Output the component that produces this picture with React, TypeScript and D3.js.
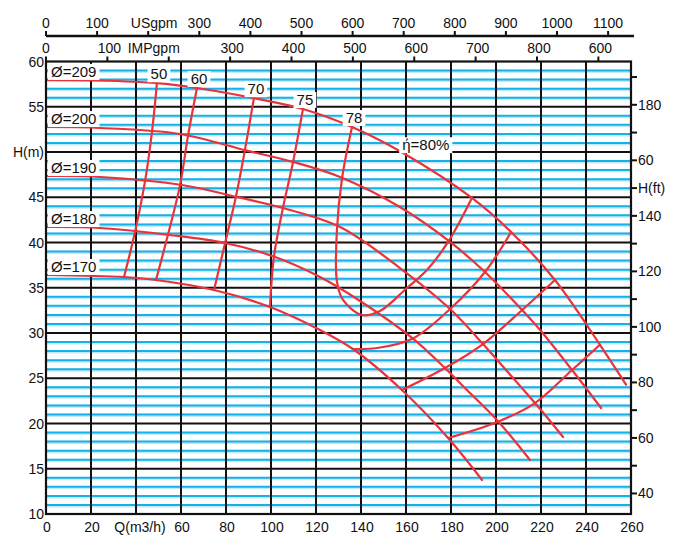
import React, { useRef, useLayoutEffect, useState } from 'react';
import * as d3 from 'd3';

// ---------- axis data ----------
const qTicks = [0, 20, 40, 60, 80, 100, 120, 140, 160, 180, 200, 220, 240, 260];
const qLabels = ['0', '20', 'Q(m3/h)', '60', '80', '100', '120', '140', '160', '180', '200', '220', '240', '260'];
const hTicks = [10, 15, 20, 25, 30, 35, 40, 45, 50, 55, 60];
const hLabels = ['10', '15', '20', '25', '30', '35', '40', '45', 'H(m)', '55', '60'];
const usTicks = [0, 100, 200, 300, 400, 500, 600, 700, 800, 900, 1000, 1100];
const usLabels = ['0', '100', 'USgpm', '300', '400', '500', '600', '700', '800', '900', '1000', '1100'];
const impTicks = [0, 100, 200, 300, 400, 500, 600, 700, 800, 900];
const impLabels = ['0', '100', 'IMPgpm', '300', '400', '500', '600', '700', '800', '600'];
const ftMajor = [180, 160, 150, 140, 120, 100, 80, 60, 40];
const ftMajorLabels = ['180', '60', 'H(ft)', '140', '120', '100', '80', '60', '40'];
const ftMinor = [190, 170, 130, 110, 90, 70, 50];
const US_PER_M3H = 4.403;
const IMP_PER_M3H = 3.666;

// ---------- H-Q curves (Q m3/h, H m) ----------
const d209: [number, number][] = [[0, 57.96], [24, 57.9], [49.3, 57.6], [67.1, 57.07], [92, 55.97], [114.2, 54.75], [136, 52.76], [158.7, 49.89], [189.3, 44.92], [206.7, 41.16], [226.2, 35.86], [246.2, 28.7], [257.8, 24.3]];
const d200: [number, number][] = [[0, 52.76], [24, 52.65], [59.6, 51.99], [89.3, 50.15], [109.8, 48.9], [130.7, 47.24], [157.3, 43.92], [179.6, 40.06], [195.1, 36.74], [211.6, 32.54], [219.6, 30.33], [233.8, 25.91], [246.7, 21.71]];
const d190: [number, number][] = [[0, 47.35], [24, 47.24], [60.4, 46.35], [84.9, 45.03], [105.3, 43.81], [130.7, 41.71], [157.3, 37.18], [179.6, 32.65], [194.2, 28.78], [207.6, 25.02], [219.6, 21.6], [229.8, 18.51]];
const d180: [number, number][] = [[0, 41.71], [24, 41.6], [55.1, 40.83], [79.6, 39.94], [101.8, 38.4], [121.8, 36.19], [139.6, 33.54], [162.7, 29.45], [177.3, 26.13], [187.1, 23.7], [200.4, 20.39], [215.1, 15.97]];
const d170: [number, number][] = [[0, 36.41], [34.67, 36.19], [48.89, 35.86], [74.67, 34.75], [99.56, 32.87], [121.8, 30.33], [136.4, 28.23], [158.2, 23.7], [178.7, 18.4], [193.8, 13.76]];
const diaCurves = [d209, d200, d190, d180, d170];
const diaLabels = ['Ø=209', 'Ø=200', 'Ø=190', 'Ø=180', 'Ø=170'];

// ---------- iso-efficiency curves ----------
const e50: [number, number][] = [[49.3, 57.6], [47.1, 52.22], [44, 46.75], [39.6, 41.21], [34.67, 36.19]];
const e60: [number, number][] = [[67.1, 57.07], [63.1, 51.77], [59.6, 46.37], [54.2, 40.85], [48.89, 35.86]];
const e70: [number, number][] = [[92.4, 55.95], [88.4, 50.21], [84.4, 45.06], [79.6, 39.94], [74.67, 34.75]];
const e75: [number, number][] = [[114.2, 54.75], [109.8, 48.9], [105.3, 43.81], [101.3, 38.43], [99.56, 32.87]];
const e78: [number, number][] = [[136, 52.76], [131.6, 47.13], [129.3, 41.38], [129.3, 35.7], [132, 33.65], [140.4, 31.99], [148.4, 32.43], [160.4, 34.97], [169.3, 36.96], [178.7, 40.06], [189.3, 44.92]];
const eB: [number, number][] = [[206.7, 41.16], [195.1, 36.74], [179.6, 32.65], [163.1, 29.4], [147.1, 28.34], [136.4, 28.23]];
const eC: [number, number][] = [[226.2, 35.86], [211.6, 32.54], [194.2, 28.78], [177.3, 26.13], [158.2, 23.7]];
const eD: [number, number][] = [[246.2, 28.7], [233.8, 25.91], [217.3, 22.26], [200.9, 20.2], [178.7, 18.4]];
const effCurves = [e50, e60, e70, e75, e78, eB, eC, eD];
const effLabels = ['50', '60', '70', '75', '78'];
const bestLabel = 'ή=80%';

// ---------- layout ----------
const W = 680, HGT = 537;
const L = 46, R = 631, T = 61.5, B = 514;
const FONT = '"Liberation Sans", Arial, Helvetica, sans-serif';
const RED = '#e8333b';

const xs = d3.scaleLinear().domain([0, 260]).range([L, R]);
const ys = d3.scaleLinear().domain([10, 60]).range([B, T]);
const fts = d3.scaleLinear().domain([32.6, 195.6]).range([B, T]);

const lineGen = d3.line<[number, number]>()
  .x(d => xs(d[0]))
  .y(d => ys(d[1]))
  .curve(d3.curveCatmullRom.alpha(0.5));

function BoxText(props: { x: number; y: number; text: string; size: number; anchor?: string }) {
  const ref = useRef<SVGTextElement>(null);
  const [bb, setBb] = useState<{ x: number; y: number; w: number; h: number } | null>(null);
  useLayoutEffect(() => {
    if (ref.current) {
      const b = ref.current.getBBox();
      setBb({ x: b.x, y: b.y, w: b.width, h: b.height });
    }
  }, [props.text, props.x, props.y]);
  return (
    <g>
      {bb && <rect x={bb.x - 3} y={bb.y + 1} width={bb.w + 6} height={bb.h - 1} fill="#fff" />}
      <text ref={ref} x={props.x} y={props.y} fontSize={props.size} fontFamily={FONT}
        textAnchor={props.anchor || 'start'} fill="#111">{props.text}</text>
    </g>
  );
}

export default function App() {
  const blueH = d3.range(11, 60).filter(h => h % 5 !== 0);
  const gridQ = qTicks.filter(q => q > 0 && q < 260);
  const gridH = hTicks.filter(h => h > 10 && h < 60);
  const usY = 36;
  return (
    <svg width={W} height={HGT} style={{ position: 'absolute', left: 0, top: 0, background: '#fff' }}>
      <defs>
        <clipPath id="plotclip"><rect x={L} y={T} width={R - L} height={B - T} /></clipPath>
      </defs>
      <rect x={0} y={0} width={W} height={HGT} fill="#fff" />
      {/* blue 1 m lines */}
      {blueH.map(h => (
        <g key={'b' + h}>
          <line x1={L} x2={R} y1={ys(h) + 0.8} y2={ys(h) + 0.8} stroke="#c2e9f8" strokeWidth={3.4} />
          <line x1={L} x2={R} y1={ys(h)} y2={ys(h)} stroke="#14b2e8" strokeWidth={2} />
        </g>
      ))}
      {/* black grid */}
      {gridQ.map(q => <line key={'v' + q} x1={xs(q)} x2={xs(q)} y1={T} y2={B} stroke="#111" strokeWidth={2} />)}
      {gridH.map(h => <line key={'h' + h} x1={L} x2={R} y1={ys(h)} y2={ys(h)} stroke="#111" strokeWidth={2} />)}
      {/* curves */}
      <g clipPath="url(#plotclip)" fill="none" stroke={RED} strokeWidth={2.2} strokeLinecap="round">
        {diaCurves.map((c, i) => <path key={'d' + i} d={lineGen(c) || ''} />)}
        {effCurves.map((c, i) => <path key={'e' + i} d={lineGen(c) || ''} />)}
      </g>
      {/* border */}
      <rect x={L} y={T} width={R - L} height={B - T} fill="none" stroke="#111" strokeWidth={2.2} />
      {/* curve labels */}
      {diaCurves.map((c, i) => (
        <BoxText key={'dl' + i} x={L + 5} y={ys(c[0][1]) - 3} text={diaLabels[i]} size={15} />
      ))}
      {effLabels.map((t, i) => (
        <BoxText key={'el' + i} x={xs(effCurves[i][0][0]) + 2} y={ys(effCurves[i][0][1]) - 4} text={t} size={15} anchor="middle" />
      ))}
      <BoxText x={xs(168.8)} y={ys(50.2)} text={bestLabel} size={15} anchor="middle" />
      {/* left axis */}
      {hTicks.map((h, i) => (
        <text key={'hl' + h} x={L - 2} y={ys(h) + 5} fontSize={14} fontFamily={FONT} textAnchor="end" fill="#111">{hLabels[i]}</text>
      ))}
      {/* bottom axis */}
      {qTicks.map((q, i) => (
        <text key={'ql' + q} x={xs(q) + (i === 2 ? 4 : 1)} y={532} fontSize={14} fontFamily={FONT} textAnchor="middle" fill="#111">{qLabels[i]}</text>
      ))}
      {/* right axis */}
      {ftMajor.map((f, i) => (
        <g key={'fm' + f}>
          <line x1={R} x2={R + 6} y1={fts(f)} y2={fts(f)} stroke="#111" strokeWidth={2} />
          <text x={R + 7} y={fts(f) + 5} fontSize={14} fontFamily={FONT} fill="#111">{ftMajorLabels[i]}</text>
        </g>
      ))}
      {ftMinor.map(f => <line key={'fn' + f} x1={R} x2={R + 6} y1={fts(f)} y2={fts(f)} stroke="#111" strokeWidth={2} />)}
      {/* top USgpm axis */}
      <line x1={L} x2={634} y1={usY} y2={usY} stroke="#111" strokeWidth={2.4} />
      {usTicks.map((g, i) => {
        const x = xs(g / US_PER_M3H);
        return (
          <g key={'us' + g}>
            <line x1={x} x2={x} y1={usY} y2={usY - 5} stroke="#111" strokeWidth={2} />
            <text x={x + (i === 2 ? 6 : 0)} y={28} fontSize={14} fontFamily={FONT} textAnchor="middle" fill="#111">{usLabels[i]}</text>
          </g>
        );
      })}
      {/* top IMPgpm axis */}
      {impTicks.map((g, i) => {
        const x = xs(g / IMP_PER_M3H);
        return (
          <g key={'imp' + g}>
            <line x1={x} x2={x} y1={T} y2={T - 5} stroke="#111" strokeWidth={2} />
            <text x={x + (i === 0 ? 0 : i === 2 ? -15 : 2)} y={53} fontSize={14} fontFamily={FONT} textAnchor="middle" fill="#111">{impLabels[i]}</text>
          </g>
        );
      })}
    </svg>
  );
}
